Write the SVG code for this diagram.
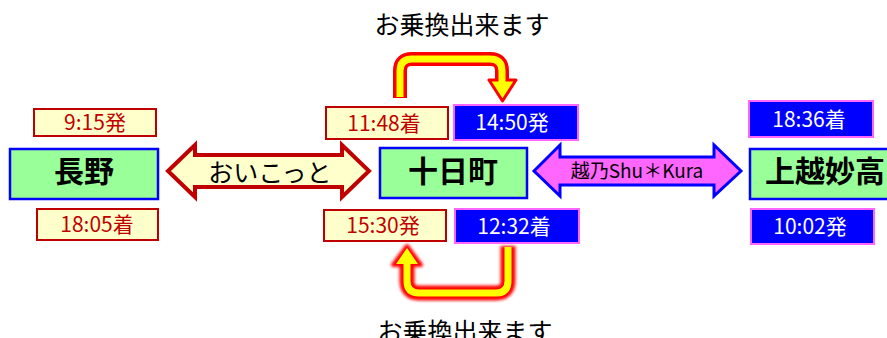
<svg xmlns="http://www.w3.org/2000/svg" width="887" height="338" viewBox="0 0 887 338">
<style>
text{font-family:"Noto Sans CJK JP","Noto Sans",sans-serif;text-anchor:middle}
.node rect{fill:#99FF99;stroke:#0000FF;stroke-width:2.5}
.node text{font-size:30px;font-weight:bold;fill:#000}
.tr rect{fill:#FFFFCC;stroke:#C00000;stroke-width:2}
.tr text{font-size:21px;fill:#C00000}
.tb rect{fill:#0000FF;stroke:#FF66FF;stroke-width:2}
.tb text{font-size:21px;fill:#FFFFFF}
.note{font-size:25px;fill:#000}
</style>
<defs>
<filter id="glow" x="-20%" y="-20%" width="140%" height="140%"><feGaussianBlur stdDeviation="1.6"/></filter>
</defs>

<g id="connectors">
  <g id="link-oikotto">
    <polygon points="168,171 195,145 195,155 342,155 342,145 369,171 342,197 342,187 195,187 195,197" fill="#FFFFCC" stroke="#C00000" stroke-width="4" stroke-linejoin="miter"/>
    <text x="270" y="182" style="font-size:25px;fill:#000">おいこっと</text>
  </g>
  <g id="link-shukura">
    <polygon points="534,171 560,145 560,157 714,157 714,145 741,171 714,196 714,185 560,185 560,196" fill="#FF66FF" stroke="#0000FF" stroke-width="3"/>
    <text x="637" y="178" style="font-size:19px;fill:#000">越乃Shu＊Kura</text>
  </g>
  <g id="transfer-up">
    <path d="M400,98 V71 Q400,59 412,59 H490 Q502,59 502,71 V82" fill="none" stroke="#FF0000" stroke-width="14"/>
    <polygon points="489,80 516,80 502.5,101" fill="#FFFF00" stroke="#FF0000" stroke-width="3" stroke-linejoin="round"/>
    <path d="M400,97 V71 Q400,59 412,59 H490 Q502,59 502,71 V83" fill="none" stroke="#FFFF00" stroke-width="7"/>
  </g>
  <g id="transfer-down">
    <g filter="url(#glow)">
      <path d="M508,246 V281 Q508,293 496,293 H419 Q407,293 407,281 V265" fill="none" stroke="#FF0000" stroke-width="15"/>
      <polygon points="393,265 421,265 407,246" fill="#FF0000" stroke="#FF0000" stroke-width="4" stroke-linejoin="round"/>
    </g>
    <polygon points="396,264 418,264 407,248" fill="#FFFF00"/>
    <path d="M508,247 V281 Q508,293 496,293 H419 Q407,293 407,281 V263" fill="none" stroke="#FFFF00" stroke-width="7"/>
  </g>
  <text class="note" x="462" y="34">お乗換出来ます</text>
  <text class="note" x="465" y="341">お乗換出来ます</text>
</g>

<g id="node-nagano" class="node"><rect x="10" y="149" width="148" height="50"/><text x="84" y="182">長野</text></g>
<g id="node-tokamachi" class="node"><rect x="380" y="148" width="147" height="50"/><text x="453" y="182">十日町</text></g>
<g id="node-joetsumyoko" class="node"><rect x="750" y="149" width="145" height="50"/><text x="825" y="182">上越妙高</text></g>

<g id="time-0915" class="tr"><rect x="34" y="109" width="122" height="27"/><text x="95" y="130">9:15発</text></g>
<g id="time-1805" class="tr"><rect x="37" y="209" width="121" height="31"/><text x="97" y="232">18:05着</text></g>
<g id="time-1148" class="tr"><rect x="326" y="107" width="122" height="32"/><text x="384" y="130.5">11:48着</text></g>
<g id="time-1450" class="tb"><rect x="454" y="105" width="124" height="35"/><text x="512" y="130">14:50発</text></g>
<g id="time-1530" class="tr"><rect x="324" y="210" width="122" height="31"/><text x="383" y="233">15:30発</text></g>
<g id="time-1232" class="tb"><rect x="455" y="209" width="124" height="34"/><text x="514" y="233.5">12:32着</text></g>
<g id="time-1836" class="tb"><rect x="749" y="101" width="124" height="36"/><text x="809" y="126.5">18:36着</text></g>
<g id="time-1002" class="tb"><rect x="751" y="209" width="123" height="35"/><text x="810" y="234">10:02発</text></g>
</svg>
